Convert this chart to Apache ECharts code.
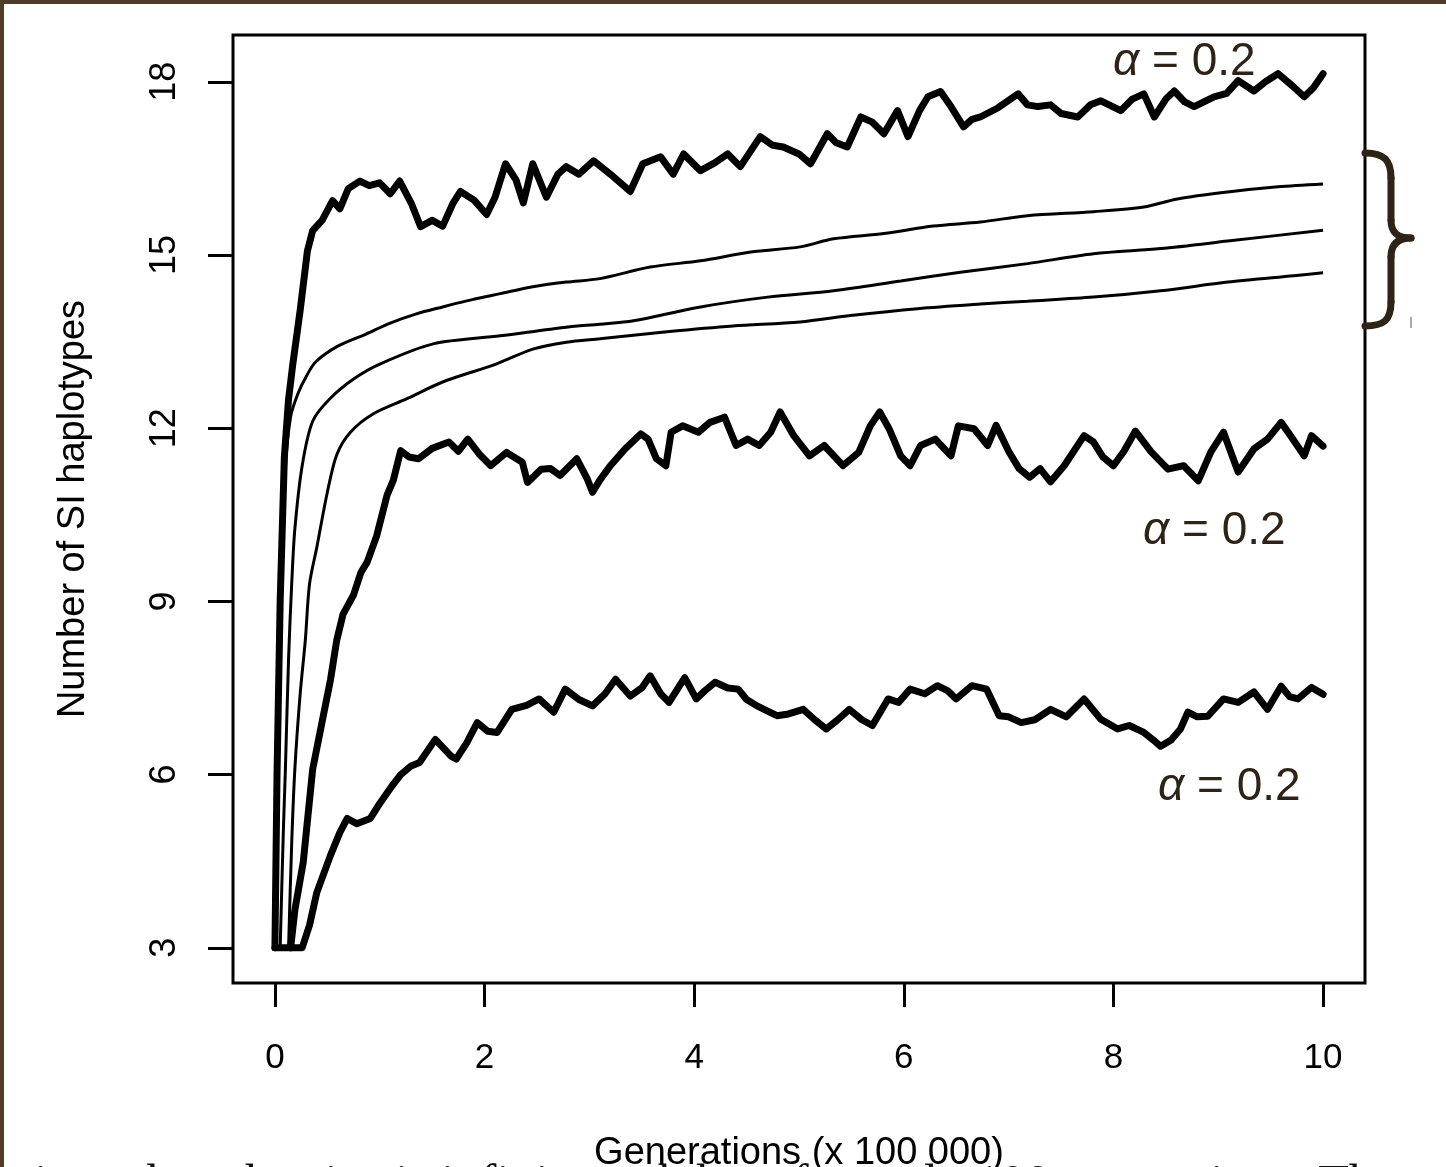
<!DOCTYPE html>
<html>
<head>
<meta charset="utf-8">
<script src="https://cdn.jsdelivr.net/npm/echarts@6/dist/echarts.min.js"></script>
<style>
  html, body { margin: 0; padding: 0; background: #fff; }
  #chart { width: 1446px; height: 1167px; }
</style>
</head>
<body>
<div id="chart"></div>
<script>
// tick labels
var xTicks = [0, 2, 4, 6, 8, 10];
var yTicks = [3, 6, 9, 12, 15, 18];

// noisy run, highest (alpha = 0.2)
var runTop = [[0,3],[0.02,6],[0.05,9],[0.09,11.5],[0.13,12.5],[0.17,13.1],[0.24,14.03],[0.31,15.07],[0.36,15.42],[0.45,15.6],[0.55,15.94],[0.62,15.8],[0.7,16.15],[0.81,16.28],[0.9,16.2],[1.0,16.25],[1.1,16.06],[1.19,16.28],[1.3,15.9],[1.39,15.49],[1.5,15.6],[1.6,15.5],[1.7,15.9],[1.77,16.1],[1.9,15.95],[2.02,15.7],[2.1,16.0],[2.2,16.58],[2.3,16.3],[2.37,15.9],[2.46,16.58],[2.59,16.0],[2.7,16.4],[2.78,16.53],[2.9,16.4],[3.04,16.63],[3.2,16.4],[3.39,16.1],[3.51,16.58],[3.68,16.7],[3.8,16.4],[3.9,16.75],[4.06,16.46],[4.2,16.6],[4.32,16.75],[4.44,16.53],[4.63,17.05],[4.75,16.9],[4.85,16.87],[5.0,16.75],[5.11,16.58],[5.27,17.1],[5.35,16.95],[5.46,16.87],[5.59,17.39],[5.7,17.3],[5.81,17.1],[5.94,17.5],[6.04,17.05],[6.15,17.5],[6.23,17.74],[6.35,17.83],[6.45,17.57],[6.57,17.22],[6.65,17.35],[6.73,17.39],[6.9,17.55],[7.09,17.79],[7.18,17.6],[7.28,17.57],[7.4,17.6],[7.5,17.45],[7.66,17.39],[7.78,17.6],[7.88,17.67],[8.07,17.5],[8.18,17.7],[8.29,17.79],[8.39,17.39],[8.5,17.7],[8.58,17.84],[8.68,17.65],[8.77,17.57],[8.96,17.74],[9.08,17.8],[9.19,18.02],[9.34,17.84],[9.45,18.0],[9.57,18.14],[9.72,17.91],[9.82,17.74],[9.91,17.9],[10,18.14]];

// three smooth curves (the braced group)
var curveHigh = [[0,3],[0.03,6],[0.06,9],[0.1,11.3],[0.15,12.2],[0.22,12.6],[0.3,12.9],[0.39,13.15],[0.6,13.42],[0.87,13.63],[1.1,13.82],[1.35,13.98],[1.6,14.1],[1.82,14.2],[2.15,14.33],[2.46,14.45],[2.78,14.53],[3.1,14.59],[3.58,14.79],[4.06,14.9],[4.54,15.05],[5.01,15.14],[5.33,15.28],[5.81,15.37],[6.28,15.5],[6.73,15.57],[7.18,15.68],[7.81,15.75],[8.29,15.83],[8.61,15.97],[9.09,16.09],[9.57,16.18],[10,16.23]];
var curveMid = [[0.05,3],[0.08,5],[0.1,6.1],[0.13,8],[0.16,9.3],[0.19,10.25],[0.26,11.35],[0.36,12.12],[0.52,12.5],[0.75,12.85],[1.0,13.11],[1.51,13.46],[2.15,13.6],[2.78,13.75],[3.1,13.8],[3.42,13.86],[4.06,14.1],[4.7,14.27],[5.33,14.38],[5.97,14.55],[6.54,14.7],[7.18,14.85],[7.81,15.02],[8.45,15.11],[9.09,15.24],[10,15.43]];
var curveLow = [[0.13,3],[0.16,4.81],[0.19,6.09],[0.24,7.38],[0.29,8.33],[0.33,9.3],[0.4,9.94],[0.5,10.89],[0.59,11.54],[0.72,11.93],[0.94,12.25],[1.26,12.51],[1.6,12.8],[2.11,13.11],[2.46,13.37],[2.78,13.49],[3.1,13.55],[3.74,13.67],[4.37,13.77],[5.01,13.84],[5.49,13.95],[6.13,14.07],[6.73,14.15],[7.18,14.2],[7.81,14.27],[8.45,14.38],[9.09,14.53],[9.72,14.64],[10,14.69]];

// noisy run, middle (alpha = 0.2)
var runMid = [[0.15,3],[0.19,3.65],[0.27,4.48],[0.36,6.09],[0.43,6.73],[0.53,7.64],[0.59,8.33],[0.65,8.78],[0.75,9.11],[0.82,9.5],[0.88,9.68],[0.97,10.13],[1.07,10.84],[1.13,11.1],[1.2,11.61],[1.28,11.5],[1.37,11.47],[1.5,11.65],[1.66,11.76],[1.75,11.6],[1.84,11.81],[1.95,11.55],[2.06,11.35],[2.21,11.58],[2.36,11.41],[2.41,11.06],[2.54,11.29],[2.63,11.3],[2.72,11.18],[2.88,11.47],[2.98,11.12],[3.03,10.89],[3.1,11.1],[3.2,11.35],[3.34,11.64],[3.49,11.9],[3.56,11.81],[3.64,11.47],[3.73,11.35],[3.78,11.93],[3.89,12.04],[4.04,11.93],[4.15,12.1],[4.29,12.19],[4.4,11.7],[4.51,11.81],[4.62,11.7],[4.73,11.93],[4.82,12.28],[4.95,11.87],[5.1,11.52],[5.24,11.7],[5.42,11.35],[5.57,11.58],[5.68,12.04],[5.77,12.28],[5.86,11.99],[5.97,11.52],[6.06,11.35],[6.16,11.7],[6.3,11.81],[6.45,11.52],[6.52,12.04],[6.67,11.99],[6.8,11.7],[6.88,12.05],[7.0,11.6],[7.1,11.3],[7.2,11.15],[7.3,11.3],[7.4,11.07],[7.53,11.35],[7.72,11.87],[7.81,11.76],[7.9,11.5],[8.0,11.35],[8.1,11.6],[8.21,11.95],[8.36,11.59],[8.52,11.29],[8.67,11.35],[8.81,11.09],[8.93,11.59],[9.05,11.93],[9.19,11.24],[9.34,11.64],[9.47,11.81],[9.6,12.1],[9.69,11.87],[9.82,11.52],[9.89,11.87],[10,11.69]];

// noisy run, lowest (alpha = 0.2)
var runLow = [[0,3],[0.26,3],[0.33,3.39],[0.4,3.96],[0.53,4.6],[0.62,5.0],[0.69,5.24],[0.78,5.15],[0.91,5.24],[1.0,5.5],[1.1,5.76],[1.2,6.0],[1.3,6.15],[1.38,6.21],[1.53,6.61],[1.68,6.32],[1.73,6.27],[1.83,6.55],[1.93,6.9],[2.03,6.75],[2.12,6.73],[2.26,7.13],[2.4,7.2],[2.52,7.31],[2.66,7.08],[2.77,7.48],[2.9,7.3],[3.03,7.19],[3.15,7.4],[3.25,7.65],[3.39,7.36],[3.5,7.5],[3.58,7.71],[3.68,7.4],[3.76,7.25],[3.91,7.68],[4.02,7.31],[4.1,7.45],[4.2,7.6],[4.32,7.5],[4.42,7.48],[4.5,7.3],[4.6,7.19],[4.7,7.1],[4.79,7.02],[4.9,7.05],[5.04,7.13],[5.15,6.95],[5.26,6.79],[5.37,6.95],[5.48,7.13],[5.6,6.95],[5.7,6.85],[5.85,7.31],[5.95,7.25],[6.06,7.48],[6.2,7.4],[6.32,7.54],[6.42,7.45],[6.5,7.31],[6.65,7.54],[6.79,7.48],[6.91,7.02],[7.0,7.0],[7.12,6.9],[7.25,6.95],[7.4,7.13],[7.55,7.0],[7.72,7.31],[7.88,6.96],[8.04,6.79],[8.15,6.85],[8.29,6.73],[8.38,6.6],[8.45,6.49],[8.55,6.6],[8.64,6.79],[8.71,7.08],[8.8,7.0],[8.9,7.01],[9.05,7.31],[9.19,7.25],[9.34,7.43],[9.47,7.13],[9.6,7.53],[9.68,7.35],[9.76,7.31],[9.89,7.51],[10,7.39]];

var font = '"Liberation Sans", Arial, sans-serif';
var brown = '#2e2317';

var chart = echarts.init(document.getElementById('chart'));

function run(name, data) {
  return {
    name: name, type: 'line', data: data, showSymbol: false, silent: true,
    lineStyle: { color: '#000', width: 7, join: 'round', cap: 'round' }
  };
}
function curve(name, data) {
  return {
    name: name, type: 'line', data: data, showSymbol: false, silent: true, smooth: 0.3,
    lineStyle: { color: '#000', width: 3 }
  };
}

function alphaLabel(x, y) {
  return {
    type: 'text', x: x, y: y,
    style: {
      text: '{a|α} = 0.2',
      fill: brown,
      font: '46px ' + font,
      verticalAlign: 'middle',
      rich: { a: { fontStyle: 'italic', fontSize: 46, fontFamily: font, fill: brown } }
    }
  };
}

// brace pieces
var braceStyle = { stroke: brown, fill: null, lineWidth: 7, lineCap: 'round' };
function bez(a) {
  return { type: 'bezierCurve', shape: { x1: a[0], y1: a[1], cpx1: a[2], cpy1: a[3], cpx2: a[4], cpy2: a[5], x2: a[6], y2: a[7] }, style: braceStyle };
}
function seg(a) {
  return { type: 'line', shape: { x1: a[0], y1: a[1], x2: a[2], y2: a[3] }, style: braceStyle };
}

var option = {
  animation: false,
  backgroundColor: '#fff',
  grid: {
    left: 233, top: 35, right: 81, bottom: 184,
    show: true, borderColor: '#000', borderWidth: 3, backgroundColor: 'transparent',
    outerBoundsMode: 'none'
  },
  xAxis: {
    type: 'value', min: -0.4, max: 10.4,
    name: 'Generations (x 100 000)', nameLocation: 'middle', nameGap: 152,
    nameTextStyle: { color: '#000', fontSize: 38, fontFamily: font },
    axisLine: { show: false, onZero: false },
    splitLine: { show: false },
    axisTick: { show: true, length: 24, customValues: xTicks, lineStyle: { color: '#000', width: 3 } },
    axisLabel: { customValues: xTicks, color: '#000', fontSize: 35, fontFamily: font, margin: 58 }
  },
  yAxis: {
    type: 'value', min: 2.39, max: 18.81,
    name: 'Number of SI haplotypes', nameLocation: 'middle', nameGap: 140,
    nameTextStyle: { color: '#000', fontSize: 38, fontFamily: font },
    axisLine: { show: false, onZero: false },
    splitLine: { show: false },
    axisTick: { show: true, length: 25, customValues: yTicks, lineStyle: { color: '#000', width: 3 } },
    axisLabel: { customValues: yTicks, rotate: 90, color: '#000', fontSize: 36, fontFamily: font, margin: 50 }
  },
  series: [
    run('top', runTop),
    curve('high', curveHigh),
    curve('mid', curveMid),
    curve('low', curveLow),
    run('middle', runMid),
    run('bottom', runLow)
  ],
  graphic: [
    // brown frame edges
    { type: 'rect', shape: { x: 0, y: 0, width: 1446, height: 4 }, style: { fill: '#4e3c27' } },
    { type: 'rect', shape: { x: 0, y: 0, width: 4, height: 1167 }, style: { fill: '#4e3c27' } },
    alphaLabel(1113, 62),
    alphaLabel(1143, 531),
    alphaLabel(1158, 787),
    // curly brace for the three smooth curves
    bez([1365, 153, 1384, 153, 1391, 160, 1391, 178]),
    seg([1391, 178, 1391, 220]),
    bez([1391, 220, 1391, 233, 1398, 238, 1411, 238]),
    bez([1411, 238, 1398, 238, 1391, 244, 1391, 257]),
    seg([1391, 257, 1391, 302]),
    bez([1391, 302, 1391, 320, 1384, 326, 1365, 326]),
    { type: 'rect', shape: { x: 1410, y: 317, width: 2, height: 11 }, style: { fill: '#aaa' } },
    // cut-off line of body text under the figure
    {
      type: 'text', x: 20, y: 1161, z: -1,
      style: {
        text: 'tion when the size is infinite and that after only 100 generations. The',
        fill: '#111', font: '50px "Liberation Serif", "DejaVu Serif", serif'
      }
    }
  ]
};

chart.setOption(option);
</script>
</body>
</html>
